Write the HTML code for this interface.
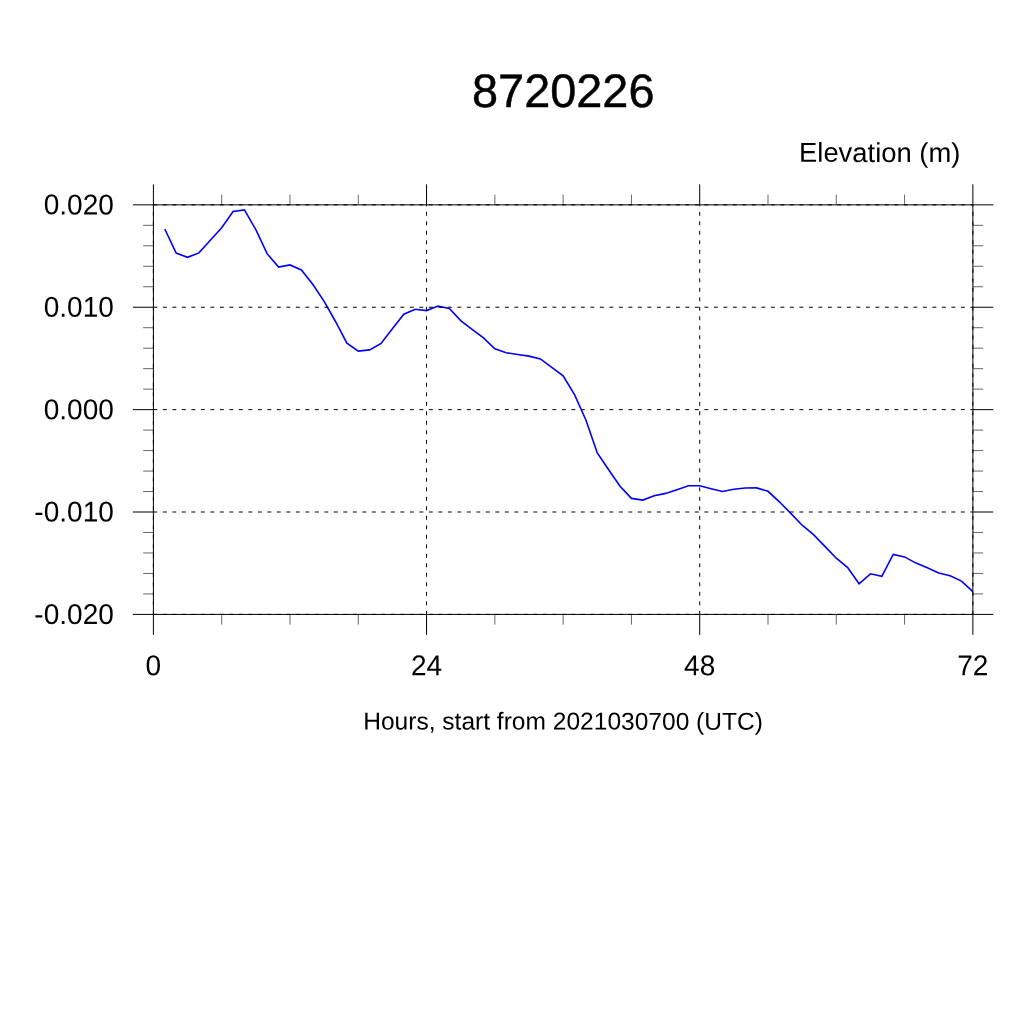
<!DOCTYPE html>
<html><head><meta charset="utf-8"><style>
html,body{margin:0;padding:0;background:#fff;width:1024px;height:1024px;overflow:hidden}
svg{display:block;will-change:transform}
text{font-family:"Liberation Sans",sans-serif;fill:#000;text-rendering:geometricPrecision}
</style></head><body>
<svg width="1024" height="1024" viewBox="0 0 1024 1024">
<rect width="1024" height="1024" fill="#fff"/>
<polyline points="164.78,229.00 176.16,253.10 187.54,257.30 198.93,252.90 210.31,240.30 221.69,227.70 233.07,211.55 244.45,209.90 255.83,229.70 267.22,253.90 278.60,267.10 289.98,264.90 301.36,270.00 312.74,284.30 324.12,301.30 335.50,321.50 346.89,343.10 358.27,351.05 369.65,349.90 381.03,343.50 392.41,328.80 403.79,314.20 415.18,309.30 426.56,310.60 437.94,306.10 449.32,308.40 460.70,320.60 472.08,329.40 483.46,337.90 494.85,348.80 506.23,352.80 517.61,354.45 528.99,356.15 540.37,358.90 551.75,367.40 563.13,375.80 574.52,394.70 585.90,420.00 597.28,452.90 608.66,469.80 620.04,486.20 631.42,498.40 642.81,500.10 654.19,495.80 665.57,493.40 676.95,489.70 688.33,485.80 699.71,485.80 711.09,488.80 722.48,491.55 733.86,489.30 745.24,488.05 756.62,487.90 768.00,491.30 779.38,501.80 790.77,513.40 802.15,525.20 813.53,534.60 824.91,546.40 836.29,558.20 847.67,567.55 859.05,583.80 870.44,573.80 881.82,576.25 893.20,554.40 904.58,556.90 915.96,563.10 927.34,567.80 938.73,573.00 950.11,575.70 961.49,581.05 972.87,591.70" fill="none" stroke="#0000ff" stroke-width="1.6" stroke-linejoin="miter"/>
<line x1="153.4" y1="204.85" x2="972.87" y2="204.85" stroke="#000" stroke-width="1" stroke-dasharray="3.9 5.6"/>
<line x1="153.4" y1="307.23749999999995" x2="972.87" y2="307.23749999999995" stroke="#000" stroke-width="1" stroke-dasharray="3.9 5.6"/>
<line x1="153.4" y1="409.625" x2="972.87" y2="409.625" stroke="#000" stroke-width="1" stroke-dasharray="3.9 5.6"/>
<line x1="153.4" y1="512.0124999999999" x2="972.87" y2="512.0124999999999" stroke="#000" stroke-width="1" stroke-dasharray="3.9 5.6"/>
<line x1="153.4" y1="614.4" x2="972.87" y2="614.4" stroke="#000" stroke-width="1" stroke-dasharray="3.9 5.6"/>
<line x1="153.4" y1="614.4" x2="153.4" y2="204.85" stroke="#000" stroke-width="1" stroke-dasharray="3.9 5.6" stroke-dashoffset="0.35"/>
<line x1="426.55666666666673" y1="614.4" x2="426.55666666666673" y2="204.85" stroke="#000" stroke-width="1" stroke-dasharray="3.9 5.6" stroke-dashoffset="0.35"/>
<line x1="699.7133333333334" y1="614.4" x2="699.7133333333334" y2="204.85" stroke="#000" stroke-width="1" stroke-dasharray="3.9 5.6" stroke-dashoffset="0.35"/>
<line x1="972.8699999999999" y1="614.4" x2="972.8699999999999" y2="204.85" stroke="#000" stroke-width="1" stroke-dasharray="3.9 5.6" stroke-dashoffset="0.35"/>
<rect x="153.4" y="204.85" width="819.47" height="409.54999999999995" fill="none" stroke="#000" stroke-width="1"/>
<path d="M132.92 204.850H153.4M972.87 204.850H993.35M132.92 307.237H153.4M972.87 307.237H993.35M132.92 409.625H153.4M972.87 409.625H993.35M132.92 512.012H153.4M972.87 512.012H993.35M132.92 614.400H153.4M972.87 614.400H993.35M153.400 184.37V204.85M153.400 614.4V634.88M426.557 184.37V204.85M426.557 614.4V634.88M699.713 184.37V204.85M699.713 614.4V634.88M972.870 184.37V204.85M972.870 614.4V634.88" stroke="#000" stroke-width="1" fill="none"/>
<path d="M143.16 225.327H153.4M972.87 225.327H983.11M143.16 245.805H153.4M972.87 245.805H983.11M143.16 266.282H153.4M972.87 266.282H983.11M143.16 286.760H153.4M972.87 286.760H983.11M143.16 327.715H153.4M972.87 327.715H983.11M143.16 348.192H153.4M972.87 348.192H983.11M143.16 368.670H153.4M972.87 368.670H983.11M143.16 389.147H153.4M972.87 389.147H983.11M143.16 430.102H153.4M972.87 430.102H983.11M143.16 450.580H153.4M972.87 450.580H983.11M143.16 471.058H153.4M972.87 471.058H983.11M143.16 491.535H153.4M972.87 491.535H983.11M143.16 532.490H153.4M972.87 532.490H983.11M143.16 552.967H153.4M972.87 552.967H983.11M143.16 573.445H153.4M972.87 573.445H983.11M143.16 593.922H153.4M972.87 593.922H983.11M221.689 194.61V204.85M221.689 614.4V624.64M289.978 194.61V204.85M289.978 614.4V624.64M358.267 194.61V204.85M358.267 614.4V624.64M494.846 194.61V204.85M494.846 614.4V624.64M563.135 194.61V204.85M563.135 614.4V624.64M631.424 194.61V204.85M631.424 614.4V624.64M768.003 194.61V204.85M768.003 614.4V624.64M836.292 194.61V204.85M836.292 614.4V624.64M904.581 194.61V204.85M904.581 614.4V624.64" stroke="#000" stroke-width="0.6" fill="none"/>
<text transform="translate(563.261 107.016) scale(1 1.00210) skewY(0.05)" font-size="46.864" text-anchor="middle" stroke="#000" stroke-width="0.45">8720226</text>
<text transform="translate(879.676 161.906) scale(1 0.99538) skewY(0.05)" font-size="27.390" text-anchor="middle">Elevation (m)</text>
<text transform="translate(78.749 214.400) scale(1 1.02) skewY(0.05)" font-size="28.05" text-anchor="middle">0.020</text>
<text transform="translate(78.749 316.787) scale(1 1.02) skewY(0.05)" font-size="28.05" text-anchor="middle">0.010</text>
<text transform="translate(78.749 419.175) scale(1 1.02) skewY(0.05)" font-size="28.05" text-anchor="middle">0.000</text>
<text transform="translate(74.079 521.562) scale(1 1.02) skewY(0.05)" font-size="28.05" text-anchor="middle">-0.010</text>
<text transform="translate(74.079 623.950) scale(1 1.02) skewY(0.05)" font-size="28.05" text-anchor="middle">-0.020</text>
<text transform="translate(153.400 675.300) scale(1 1.02) skewY(0.05)" font-size="28.05" text-anchor="middle">0</text>
<text transform="translate(426.557 675.300) scale(1 1.02) skewY(0.05)" font-size="28.05" text-anchor="middle">24</text>
<text transform="translate(699.713 675.300) scale(1 1.02) skewY(0.05)" font-size="28.05" text-anchor="middle">48</text>
<text transform="translate(972.870 675.300) scale(1 1.02) skewY(0.05)" font-size="28.05" text-anchor="middle">72</text>
<text transform="translate(563.054 729.583) scale(1 0.99621) skewY(0.05)" font-size="24.566" text-anchor="middle">Hours, start from 2021030700 (UTC)</text>
</svg>
</body></html>
